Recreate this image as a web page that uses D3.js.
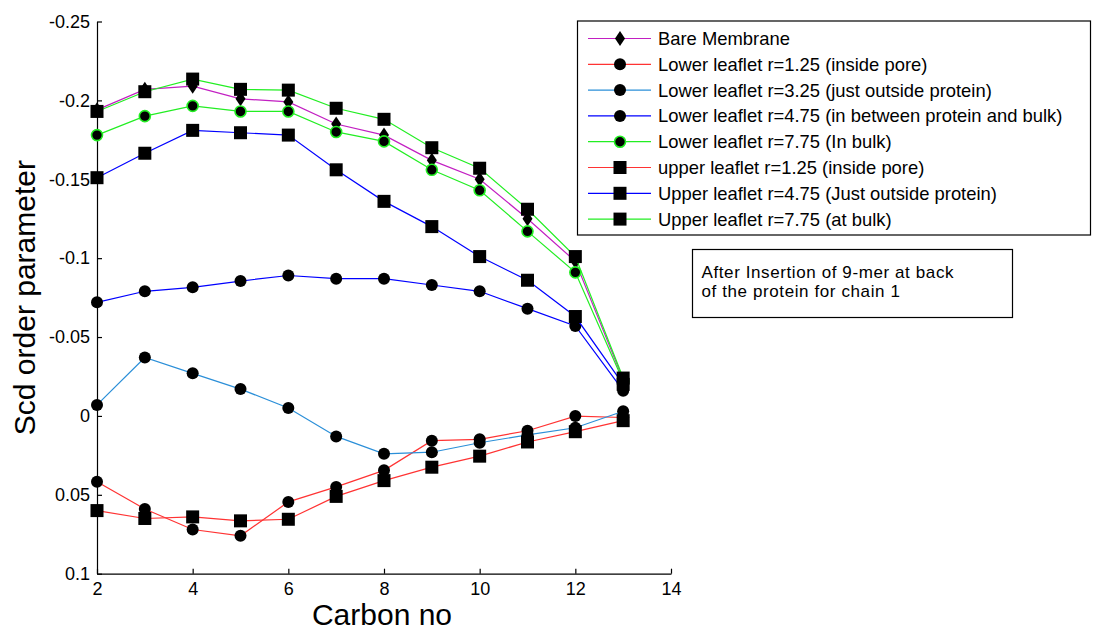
<!DOCTYPE html>
<html>
<head>
<meta charset="utf-8">
<script src="https://cdn.jsdelivr.net/npm/d3@7"></script>
<style>
  html, body { margin: 0; padding: 0; background: #fff; }
  svg { display: block; }
  text { font-family: "Liberation Sans", Arial, sans-serif; fill: #000; }
</style>
</head>
<body>
<svg id="chart" width="1099" height="631"></svg>
<script>
// Carbon positions along the lipid tail
const carbons = [2, 3, 4, 5, 6, 7, 8, 9, 10, 11, 12, 13];

// Scd order parameter per carbon for each leaflet / radius
const bareMembrane = [-0.194, -0.207, -0.209, -0.201, -0.199, -0.185, -0.178, -0.162, -0.150, -0.125, -0.098, -0.023];
const lower125 = [0.0417, 0.059, 0.072, 0.076, 0.0545, 0.045, 0.0345, 0.0157, 0.0148, 0.0094, 0.0001, 0.001];
const lower325 = [-0.007, -0.037, -0.027, -0.017, -0.005, 0.013, 0.024, 0.023, 0.017, 0.012, 0.0075, -0.003];
const lower475 = [-0.072, -0.079, -0.0815, -0.0855, -0.089, -0.087, -0.087, -0.083, -0.079, -0.068, -0.057, -0.016];
const lower775 = [-0.178, -0.190, -0.1965, -0.193, -0.193, -0.180, -0.174, -0.156, -0.143, -0.117, -0.091, -0.022];
const upper125 = [0.060, 0.065, 0.064, 0.0665, 0.0655, 0.051, 0.041, 0.0325, 0.0255, 0.0165, 0.010, 0.003];
const upper475 = [-0.151, -0.1665, -0.181, -0.1795, -0.178, -0.156, -0.136, -0.120, -0.101, -0.086, -0.063, -0.020];
const upper775 = [-0.193, -0.2055, -0.2135, -0.207, -0.2065, -0.195, -0.188, -0.170, -0.157, -0.131, -0.101, -0.024];

const seriesNames = [
  "Bare Membrane",
  "Lower leaflet r=1.25 (inside pore)",
  "Lower leaflet r=3.25 (just outside protein)",
  "Lower leaflet r=4.75 (in between protein and bulk)",
  "Lower leaflet r=7.75 (In bulk)",
  "upper leaflet r=1.25 (inside pore)",
  "Upper leaflet r=4.75 (Just outside protein)",
  "Upper leaflet r=7.75 (at bulk)"
];
const seriesValues = [bareMembrane, lower125, lower325, lower475, lower775, upper125, upper475, upper775];
const seriesColors = ["#c21fc2", "#ff3333", "#2b8fd8", "#0000ff", "#22ee22", "#ff3333", "#0000ff", "#22ee22"];
const seriesMarkers = ["diamond", "circle", "circle", "circle", "circle", "square", "square", "square"];
const markerEdges = [null, null, null, null, "#22ee22", null, null, null];

const xTicks = [2, 4, 6, 8, 10, 12, 14];
const yTicks = [-0.25, -0.2, -0.15, -0.1, -0.05, 0, 0.05, 0.1];
const yTickLabels = ["-0.25", "-0.2", "-0.15", "-0.1", "-0.05", "0", "0.05", "0.1"];
const xTitle = "Carbon no";
const yTitle = "Scd order parameter";
const noteLines = ["After Insertion of 9-mer at back", "of the protein for chain 1"];

const svg = d3.select("#chart");

const x = d3.scaleLinear().domain([2, 14]).range([97, 671]);
const y = d3.scaleLinear().domain([-0.25, 0.1]).range([21.5, 573.7]);

// Axes: only left and bottom, ticks pointing inward
const xAxis = d3.axisBottom(x).tickValues(xTicks).tickFormat(d3.format("d"))
  .tickSizeInner(-5).tickSizeOuter(0).tickPadding(9);
const yAxis = d3.axisLeft(y).tickValues(yTicks)
  .tickFormat((d, i) => yTickLabels[i])
  .tickSizeInner(-5).tickSizeOuter(0).tickPadding(7);

const gx = svg.append("g").attr("transform", `translate(0,${y(0.1)})`).call(xAxis);
const gy = svg.append("g").attr("transform", `translate(${x(2)},0)`).call(yAxis);
[gx, gy].forEach(g => {
  g.select(".domain").attr("stroke", "#000").attr("stroke-width", 1.2);
  g.selectAll(".tick line").attr("stroke", "#000").attr("stroke-width", 1.2);
  g.selectAll(".tick text")
    .style("font-family", "'Liberation Sans', Arial, sans-serif")
    .style("font-size", "18px").attr("fill", "#000");
});

// Axis titles
svg.append("text")
  .attr("x", 382).attr("y", 625)
  .attr("text-anchor", "middle")
  .style("font-size", "30px")
  .text(xTitle);
svg.append("text")
  .attr("transform", `translate(35,${(y(-0.25) + y(0.1)) / 2}) rotate(-90)`)
  .attr("text-anchor", "middle")
  .style("font-size", "30px")
  .text(yTitle);

// Marker drawing helper
function drawMarker(g, type, cx, cy, edge) {
  if (type === "circle") {
    g.append("circle").attr("cx", cx).attr("cy", cy).attr("r", edge ? 5.5 : 6)
      .attr("fill", "#000")
      .attr("stroke", edge || "none").attr("stroke-width", edge ? 1.6 : 0);
  } else if (type === "square") {
    g.append("rect").attr("x", cx - 6.5).attr("y", cy - 6.5)
      .attr("width", 13).attr("height", 13).attr("fill", "#000");
  } else {
    g.append("path")
      .attr("d", `M${cx},${cy - 7.5}L${cx + 5},${cy}L${cx},${cy + 7.5}L${cx - 5},${cy}Z`)
      .attr("fill", "#000");
  }
}

// Series lines and markers
const line = d3.line().x((d, i) => x(carbons[i])).y(d => y(d));
seriesValues.forEach((vals, s) => {
  const g = svg.append("g");
  g.append("path").datum(vals)
    .attr("d", line)
    .attr("fill", "none")
    .attr("stroke", seriesColors[s])
    .attr("stroke-width", 1.2);
  vals.forEach((v, i) => drawMarker(g, seriesMarkers[s], x(carbons[i]), y(v), markerEdges[s]));
});

// Legend
const legend = svg.append("g");
legend.append("rect")
  .attr("x", 577.5).attr("y", 21).attr("width", 513).attr("height", 214)
  .attr("fill", "#fff").attr("stroke", "#000").attr("stroke-width", 1.2);
seriesNames.forEach((name, s) => {
  const ry = 38.5 + s * 25.8;
  legend.append("line")
    .attr("x1", 588).attr("x2", 651).attr("y1", ry).attr("y2", ry)
    .attr("stroke", seriesColors[s]).attr("stroke-width", 1.2);
  drawMarker(legend, seriesMarkers[s], 620, ry, markerEdges[s]);
  legend.append("text")
    .attr("x", 658).attr("y", ry)
    .attr("dy", "0.35em")
    .style("font-size", "18.4px")
    .text(name);
});

// Annotation box
const note = svg.append("g");
note.append("rect")
  .attr("x", 692.5).attr("y", 249.5).attr("width", 320).attr("height", 68)
  .attr("fill", "#fff").attr("stroke", "#000").attr("stroke-width", 1.2);
noteLines.forEach((t, i) => {
  note.append("text")
    .attr("x", 701.5).attr("y", 277.5 + i * 19.5)
    .style("font-size", "17px")
    .style("letter-spacing", "0.6px")
    .text(t);
});
</script>
</body>
</html>
